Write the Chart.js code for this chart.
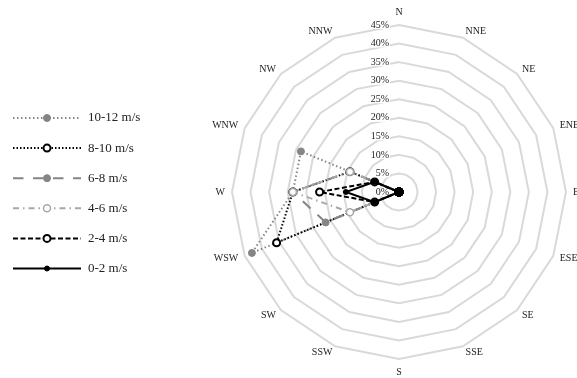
<!DOCTYPE html>
<html>
<head>
<meta charset="utf-8">
<script src="https://cdn.jsdelivr.net/npm/chart.js@4.4.0/dist/chart.umd.min.js"></script>
<style>
  html, body { margin: 0; padding: 0; background: #fff; overflow: hidden; }
  #wrap { width: 577px; height: 378px; overflow: hidden; }
</style>
</head>
<body>
<div id="wrap"><canvas id="windChart" width="640" height="378"></canvas></div>
<script>
// smjerovi vjetra
const directions = ['N', 'NNE', 'NE', 'ENE', 'E', 'ESE', 'SE', 'SSE', 'S', 'SSW', 'SW', 'WSW', 'W', 'WNW', 'NW', 'NNW'];
const speedLabels = ['10-12 m/s', '8-10 m/s', '6-8 m/s', '4-6 m/s', '2-4 m/s', '0-2 m/s'];

// udio po smjeru (%)
const speed10to12 = [0, 0, 0, 0, 0, 0, 0, 0, 0, 0, 0, 42.9, 28.6, 28.6, 0, 0];
const speed8to10  = [0, 0, 0, 0, 0, 0, 0, 0, 0, 0, 0, 35.7, 28.6, 14.3, 0, 0];
const speed6to8   = [0, 0, 0, 0, 0, 0, 0, 0, 0, 0, 0, 21.4, 28.6, 14.3, 0, 0];
const speed4to6   = [0, 0, 0, 0, 0, 0, 0, 0, 0, 0, 0, 14.3, 28.6, 14.3, 0, 0];
const speed2to4   = [0, 0, 0, 0, 0, 0, 0, 0, 0, 0, 0, 7.1, 21.4, 7.1, 0, 0];
const speed0to2   = [0, 0, 0, 0, 0, 0, 0, 0, 0, 0, 0, 7.1, 14.3, 7.1, 0, 0];

const tickMax = 45;
const tickStep = 5;

const serif = '"Liberation Serif", "Times New Roman", serif';

// legenda lijevo
const sideLegend = {
    id: 'sideLegend',
    afterDraw(chart) {
        const ctx = chart.ctx;
        chart.data.datasets.forEach((ds, i) => {
            const y = 118 + i * 30.1;
            ctx.save();
            ctx.strokeStyle = ds.borderColor;
            ctx.lineWidth = ds.borderWidth;
            ctx.setLineDash(ds.borderDash || []);
            ctx.beginPath();
            ctx.moveTo(13, y);
            ctx.lineTo(81, y);
            ctx.stroke();
            ctx.setLineDash([]);
            ctx.beginPath();
            ctx.arc(47, y, ds.pointRadius, 0, Math.PI * 2);
            ctx.fillStyle = ds.pointBackgroundColor;
            ctx.fill();
            ctx.lineWidth = ds.pointBorderWidth;
            ctx.strokeStyle = ds.pointBorderColor;
            ctx.stroke();
            ctx.fillStyle = '#222';
            ctx.font = '13px ' + serif;
            ctx.textBaseline = 'middle';
            ctx.fillText(ds.label, 88, y);
            ctx.restore();
        });
    }
};

// postoci lijevo od osi N + nazivi smjerova
const scaleText = {
    id: 'scaleText',
    beforeDatasetsDraw(chart) {
        const scale = chart.scales.r;
        const ctx = chart.ctx;
        ctx.save();
        ctx.font = '10px ' + serif;
        ctx.textAlign = 'right';
        ctx.textBaseline = 'middle';
        scale.ticks.forEach(t => {
            const y = scale.yCenter - scale.getDistanceFromCenterForValue(t.value);
            const x = scale.xCenter - 10;
            const text = t.value + '%';
            const w = ctx.measureText(text).width;
            ctx.fillStyle = '#fff';
            ctx.fillRect(x - w - 1, y - 4, w + 2, 8);
            ctx.fillStyle = '#222';
            ctx.fillText(text, x, y);
        });

        // nazivi smjerova - centrirani okomito na točku
        chart.data.labels.forEach((label, i) => {
            const p = scale.getPointPosition(i, scale.drawingArea + 7);
            const dx = p.x - scale.xCenter;
            const dy = p.y - scale.yCenter;
            let y = p.y;
            if (Math.abs(dx) < 1) {
                ctx.textAlign = 'center';
                y += dy < 0 ? -6 : 6;
            } else {
                ctx.textAlign = dx < 0 ? 'right' : 'left';
            }
            ctx.fillStyle = '#222';
            ctx.fillText(label, p.x, y);
        });
        ctx.restore();
    }
};

const seriesValues = [speed10to12, speed8to10, speed6to8, speed4to6, speed2to4, speed0to2];
const styles = [
    { color: '#858585', dash: [1.5, 2.5], fill: '#858585', border: '#858585', r: 3.5, bw: 1 },
    { color: '#000000', dash: [1.5, 2], fill: '#ffffff', border: '#000000', r: 3.5, bw: 2 },
    { color: '#858585', dash: [10.5, 9.5], fill: '#858585', border: '#858585', r: 3.5, bw: 1 },
    { color: '#a8a8a8', dash: [6, 4, 1.5, 4], fill: '#ffffff', border: '#a8a8a8', r: 3.5, bw: 1.5 },
    { color: '#000000', dash: [5, 2.5], fill: '#ffffff', border: '#000000', r: 3.5, bw: 2 },
    { color: '#000000', dash: [], fill: '#000000', border: '#000000', r: 2.5, bw: 1 }
];

const datasets = speedLabels.map((label, i) => ({
    label: label,
    data: seriesValues[i],
    borderColor: styles[i].color,
    borderWidth: 2,
    borderDash: styles[i].dash,
    fill: false,
    pointRadius: styles[i].r,
    pointBackgroundColor: styles[i].fill,
    pointBorderColor: styles[i].border,
    pointBorderWidth: styles[i].bw,
    order: speedLabels.length - 1 - i
}));

new Chart(document.getElementById('windChart'), {
    type: 'radar',
    data: { labels: directions, datasets: datasets },
    options: {
        responsive: false,
        animation: false,
        layout: { padding: { left: 158, top: 25, right: 0, bottom: 18 } },
        plugins: { legend: { display: false }, tooltip: { enabled: false } },
        elements: { line: { tension: 0 } },
        scales: {
            r: {
                min: 0,
                max: tickMax,
                ticks: { stepSize: tickStep, display: false },
                angleLines: { display: false },
                grid: { color: '#d9d9d9', lineWidth: 2 },
                pointLabels: { display: false }
            }
        }
    },
    plugins: [sideLegend, scaleText]
});
</script>
</body>
</html>
